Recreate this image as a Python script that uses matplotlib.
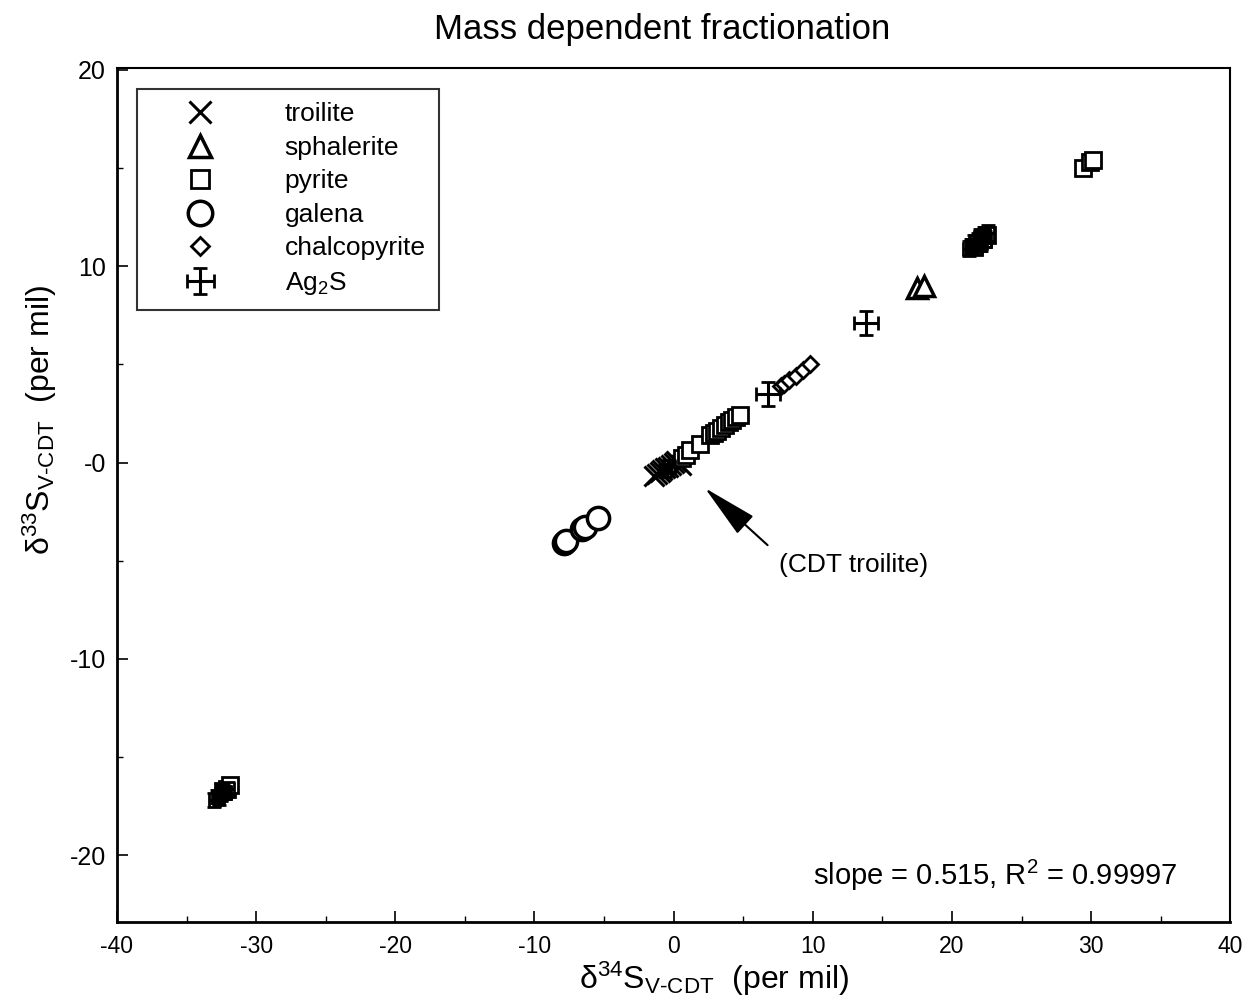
import numpy as np
import matplotlib
matplotlib.use("Agg")
import matplotlib.pyplot as plt

# data (per mil)
troilite_x = [-1.4, -1.2, -1.0, -0.8, -0.6, -0.4, -0.2, 0.0, 0.2, 0.5]
troilite_y = [-0.7, -0.6, -0.5, -0.4, -0.3, -0.2, -0.1, 0.0, 0.1, -0.1]

sphalerite_x = [17.5, 18.0]
sphalerite_y = [8.9, 9.0]

pyrite_x = [-32.4, -32.1, -31.9, 0.6, 0.9, 1.2, 1.9, 2.6, 2.9, 3.1, 3.4, 3.7,
            4.0, 4.2, 4.5, 4.8, 21.6, 21.9, 22.2, 22.5, 29.4, 29.9, 30.1]
pyrite_y = [-16.7, -16.6, -16.4, 0.25, 0.4, 0.65, 0.95, 1.4, 1.5, 1.6, 1.75, 1.9,
            2.05, 2.15, 2.3, 2.4, 11.0, 11.2, 11.4, 11.6, 15.0, 15.3, 15.4]

galena_x = [-7.9, -7.7, -6.6, -6.4, -5.4]
galena_y = [-4.1, -4.0, -3.4, -3.3, -2.8]

chalco_x = [7.7, 7.9, 8.3, 8.8, 9.3, 9.8]
chalco_y = [3.9, 4.0, 4.2, 4.4, 4.7, 5.0]

ag_x = [-33.0, -32.8, -32.7, -32.5, -32.4, -32.2, -32.0, -0.6, -0.3, 6.8, 13.8,
        21.2, 21.4, 21.6, 21.7, 21.9, 22.0, 22.1, 22.3, 22.4, 22.6]
ag_y = [-17.2, -17.0, -17.1, -16.9, -16.7, -16.8, -16.6, -0.4, -0.2, 3.5, 7.1,
        10.9, 11.0, 11.2, 11.0, 11.3, 11.5, 11.2, 11.6, 11.4, 11.7]
ag_xerr = [0.4, 0.4, 0.4, 0.4, 0.4, 0.4, 0.4, 0.4, 0.4, 0.85, 0.85,
           0.4, 0.4, 0.4, 0.4, 0.4, 0.4, 0.4, 0.4, 0.4, 0.4]
ag_yerr = [0.35, 0.35, 0.35, 0.35, 0.35, 0.35, 0.35, 0.35, 0.35, 0.6, 0.6,
           0.4, 0.4, 0.4, 0.4, 0.4, 0.4, 0.4, 0.4, 0.4, 0.4]

plt.rcParams['font.family'] = ['Liberation Sans', 'DejaVu Sans']
plt.rcParams['mathtext.fontset'] = 'custom'
plt.rcParams['mathtext.rm'] = 'Liberation Sans'
plt.rcParams['mathtext.it'] = 'Liberation Sans'
plt.rcParams['mathtext.default'] = 'regular'

fig = plt.figure(figsize=(12.44, 9.99), dpi=100)
ax = fig.add_axes([0.094, 0.077, 0.895, 0.855])

mk = dict(linestyle='none', markerfacecolor='white', markeredgecolor='k')
ax.plot(troilite_x, troilite_y, marker='x', color='k', markersize=14,
        markeredgewidth=2.2, linestyle='none', label='troilite')
ax.plot(sphalerite_x, sphalerite_y, marker='^', markersize=15,
        markeredgewidth=2.5, label='sphalerite', **mk)
ax.plot(pyrite_x, pyrite_y, marker='s', markersize=12,
        markeredgewidth=2, label='pyrite', **mk)
ax.plot(galena_x, galena_y, marker='o', markersize=16,
        markeredgewidth=2.5, label='galena', **mk)
ax.plot(chalco_x, chalco_y, marker='D', markersize=8,
        markeredgewidth=2, label='chalcopyrite', **mk)
ax.errorbar(ag_x, ag_y, xerr=ag_xerr, yerr=ag_yerr, fmt='none', ecolor='k',
            elinewidth=2.2, capsize=5, capthick=2, label='Ag$_2$S')

ax.set_xlim(-40, 40)
ax.set_ylim(-23.4, 20.1)
ax.set_xticks(np.arange(-40, 41, 10))
ax.set_xticks(np.arange(-35, 40, 10), minor=True)
ax.set_yticks([-20, -10, 0, 10, 20])
ax.set_yticklabels(['-20', '-10', '-0', '10', '20'])
ax.set_yticks([-15, -5, 5, 15], minor=True)
ax.set_xticklabels([str(v) for v in range(-40, 41, 10)])
ax.tick_params(axis='x', which='both', direction='in', labelsize=16.5, pad=9)
ax.tick_params(axis='y', which='both', direction='in', labelsize=18, pad=8)
ax.tick_params(which='major', length=8, width=1.2)
ax.tick_params(which='minor', length=4, width=1)
for s in ['left', 'bottom']:
    ax.spines[s].set_linewidth(2)
for s in ['top', 'right']:
    ax.spines[s].set_linewidth(1.5)

leg = ax.legend(loc='upper left', bbox_to_anchor=(0.018, 0.975), borderaxespad=0,
                fontsize=19, frameon=True, fancybox=False, edgecolor='k',
                labelspacing=0.36, handlelength=3.8, handletextpad=1.3,
                borderpad=0.5, markerscale=1.1)
leg.get_frame().set_linewidth(1.5)

ax.annotate('', xy=(2.1, -1.2), xytext=(6.9, -4.3),
            arrowprops=dict(arrowstyle='-|>,head_length=1.4,head_width=0.3',
                            mutation_scale=25, lw=1.5, color='k'))
ax.text(7.6, -5.2, '(CDT troilite)', fontsize=19, va='center', ha='left')
ax.text(36.2, -21.0, 'slope = 0.515, R$^2$ = 0.99997', fontsize=21,
        va='center', ha='right')

fig.text(0.532, 1 - 30 / 999, 'Mass dependent fractionation', fontsize=25,
         ha='center', va='center')
fig.text(714 / 1244, 1 - 979 / 999, r'$\delta^{34}$S$_{V\text{-}CDT}$  (per mil)',
         fontsize=23, ha='center', va='center')
fig.text(40 / 1244, 1 - 420 / 999, r'$\delta^{33}$S$_{V\text{-}CDT}$  (per mil)',
         fontsize=23, ha='center', va='center', rotation=90)

fig.savefig('out.png', dpi=100)
